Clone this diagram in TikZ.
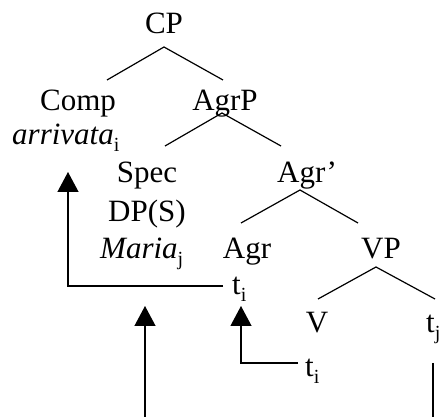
\documentclass[tikz,border=0pt]{standalone}
\usepackage{fontspec}
\setmainfont{Liberation Serif}
\usetikzlibrary{arrows.meta}
\newcommand\lsub[1]{\raisebox{-7pt}{\fontsize{20}{20}\selectfont #1}}
\begin{document}
\begin{tikzpicture}[x=1pt,y=-1pt,
  lbl/.style={anchor=base, inner sep=0pt, font=\fontsize{31}{36}\selectfont},
  edge/.style={line width=1.2pt},
  mv/.style={line width=1.2pt, -{Triangle[width=21pt,length=20pt]}}]
\useasboundingbox (0,0) rectangle (440,417);
% nodes
\node[lbl] (CP) at (164,34) {CP};
\node[lbl] (Comp) at (78,111) {Comp};
\node[lbl] (AgrP) at (225,111) {AgrP};
\node[lbl, anchor=base west] (arr) at (12,145) {\textit{arrivata}\lsub{i}};
\node[lbl] (Spec) at (147,183) {Spec};
\node[lbl, anchor=base west] (Agrb) at (277,183) {Agr’};
\node[lbl] (DP) at (147,222) {DP(S)};
\node[lbl, anchor=base west] (Maria) at (100,259) {\textit{Maria}\lsub{j}};
\node[lbl] (Agr) at (247,259) {Agr};
\node[lbl] (VP) at (381,259) {VP};
\node[lbl, anchor=base west] (ti1) at (232,295) {t\lsub{i}};
\node[lbl] (V) at (317,333) {V};
\node[lbl, anchor=base west] (tj) at (426,333) {t\lsub{j}};
\node[lbl, anchor=base west] (ti2) at (305,377) {t\lsub{i}};
% tree branch points
\coordinate (cpA) at (164,47);
\coordinate (cpL) at (107,80);
\coordinate (cpR) at (223,80);
\coordinate (agrpA) at (222,113);
\coordinate (agrpL) at (165,146);
\coordinate (agrpR) at (281,146);
\coordinate (agrbA) at (300,190);
\coordinate (agrbL) at (241,223);
\coordinate (agrbR) at (358,223);
\coordinate (vpA) at (376,267);
\coordinate (vpL) at (318,299);
\coordinate (vpR) at (435,299);
\draw[edge] (cpL) -- (cpA) -- (cpR);
\draw[edge] (agrpL) -- (agrpA) -- (agrpR);
\draw[edge] (agrbL) -- (agrbA) -- (agrbR);
\draw[edge] (vpL) -- (vpA) -- (vpR);
% movement
\coordinate (ti1L) at (223,286);
\coordinate (arrB) at (68,172);
\draw[mv] (ti1L) -| (arrB);
\coordinate (ti2L) at (298,363);
\coordinate (agrB) at (241,306);
\draw[mv] (ti2L) -| (agrB);
\coordinate (bot1) at (145,417);
\coordinate (mB) at (145,306);
\draw[mv] (bot1) -- (mB);
\coordinate (tjB) at (433,363);
\coordinate (bot2) at (433,417);
\draw[edge] (tjB) -- (bot2);
\end{tikzpicture}
\end{document}
